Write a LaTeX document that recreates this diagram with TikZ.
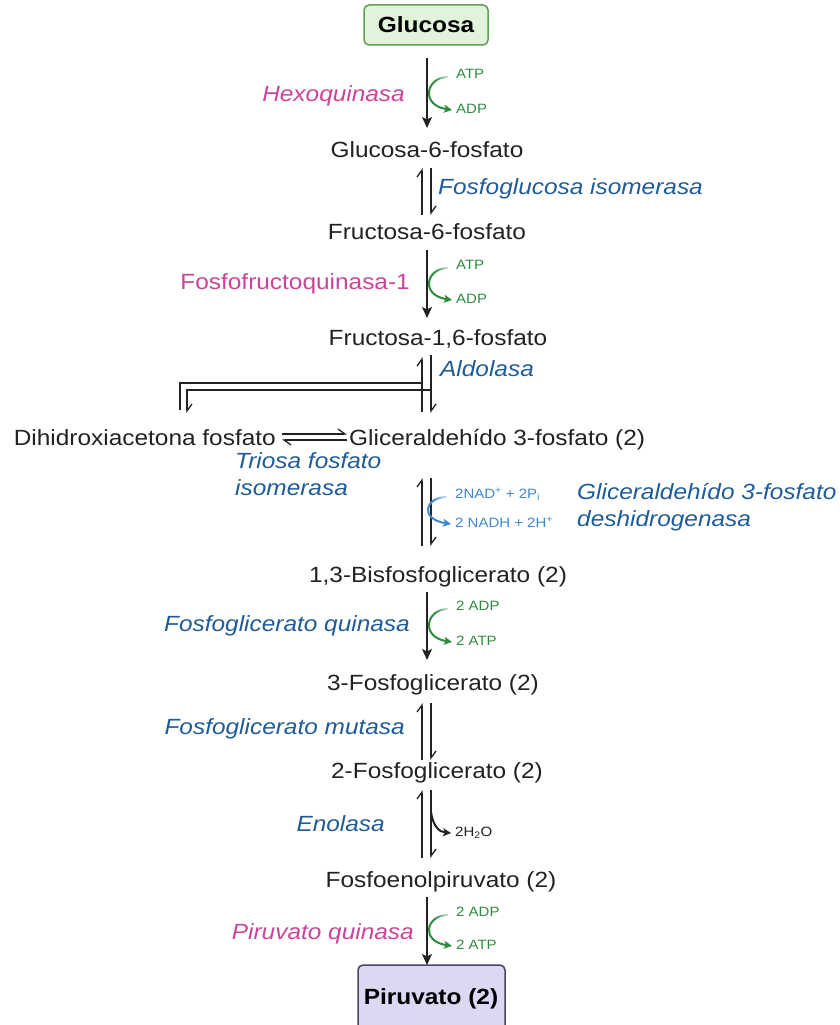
\documentclass[tikz,border=0pt]{standalone}
\usepackage{fontspec}
\setmainfont{Liberation Sans}[FakeStretch=1.11]
\usetikzlibrary{arrows.meta,fadings}
\definecolor{mag}{HTML}{CC449A}
\definecolor{enzblue}{HTML}{1F5C98}
\definecolor{cofgreen}{HTML}{2E8B3C}
\definecolor{nadblue}{HTML}{3D88CF}
\definecolor{ink}{HTML}{222222}
\definecolor{glcfill}{HTML}{E1F3DA}
\definecolor{glcdraw}{HTML}{5F9E55}
\definecolor{pyrfill}{HTML}{DCD7F3}
\definecolor{pyrdraw}{HTML}{4A4560}

\tikzfading[name=tailfade, left color=transparent!100, right color=transparent!0]

% cofactor arc running from the upper label round to the lower one, its tail fading out
\newcommand\cofarc[3]{%
  \draw[#1] ([shift={(-8,2)}]#2.west) .. controls +(-22,0) and +(-32,-5) .. ([xshift=-4]#3.west);
  \fill[white, path fading=tailfade] ([shift={(-22,-3)}]#2.west) rectangle ([shift={(-5,7)}]#2.west);}
% pair of half-headed lines for a reversible step between y=#1 (top) and y=#2 (bottom)
\newcommand\eqpair[2]{%
  \draw[eqline,barb] (422,#2) -- (422,#1);
  \draw[eqline,barb] (431,#1) -- (431,#2);}

\begin{document}
\begin{tikzpicture}[x=1pt,y=-1pt,
  met/.style={font=\fontsize{22}{26}\selectfont, text=ink, inner sep=0pt, text height=18pt, text depth=3pt},
  boxmet/.style={font=\fontsize{22}{26}\selectfont\bfseries, text=black, rounded corners=5pt, line width=1.5pt},
  enz/.style={font=\fontsize{22}{26.5}\selectfont\itshape, text=enzblue, inner sep=0pt, align=left},
  kin/.style={font=\fontsize{22}{26.5}\selectfont\itshape, text=mag, inner sep=0pt},
  cof/.style={font=\fontsize{13.5}{15}\selectfont, inner sep=0pt, text height=10pt, text depth=3pt},
  main/.style={line width=1.3pt, draw=ink, -{Stealth[length=11pt,width=10pt,inset=2.5pt]}},
  eqline/.style={line width=1.3pt, draw=ink},
  barb/.style={-{Straight Barb[left,length=7pt,width=10pt]}},
  arcg/.style={line width=2pt, draw=cofgreen, -{Stealth[length=8pt,width=8pt,inset=2pt]}},
  arcb/.style={line width=2pt, draw=nadblue, -{Stealth[length=8pt,width=8pt,inset=2pt]}},
  arck/.style={line width=2pt, draw=ink, -{Stealth[length=8pt,width=8pt,inset=2pt]}}
]
\useasboundingbox (0,0) rectangle (840,1025);
\fill[white] (0,0) rectangle (840,1025);

% metabolites
\node[boxmet, fill=glcfill, draw=glcdraw, minimum width=124pt, minimum height=40pt] (glc) at (426,25) {Glucosa};
\node[met] (g6p) at (427,150) {Glucosa-6-fosfato};
\node[met] (f6p) at (427,232) {Fructosa-6-fosfato};
\node[met] (f16) at (438,338) {Fructosa-1,6-fosfato};
\node[met, anchor=east] (dhap) at (276,438) {Dihidroxiacetona fosfato};
\node[met, anchor=west] (gap) at (349,438) {Gliceraldehído 3-fosfato (2)};
\node[met] (bpg) at (438,575) {1,3-Bisfosfoglicerato (2)};
\node[met] (pg3) at (433,683) {3-Fosfoglicerato (2)};
\node[met] (pg2) at (437,771) {2-Fosfoglicerato (2)};
\node[met] (pep) at (441,880) {Fosfoenolpiruvato (2)};
\begin{scope}
\clip (0,0) rectangle (840,1025);
\draw[boxmet, fill=pyrfill, draw=pyrdraw] (358,965) rectangle (505,1040);
\end{scope}
\node[font=\fontsize{22}{26}\selectfont\bfseries, inner sep=0pt, text height=18pt, text depth=3pt] (pyr) at (431,997) {Piruvato (2)};

% enzymes
\node[kin, anchor=east] (hk) at (405,96) {Hexoquinasa};
\node[enz, anchor=west] (pgi) at (438,189) {Fosfoglucosa isomerasa};
\node[kin, anchor=east, font=\fontsize{22}{26.5}\selectfont] (pfk) at (410,284) {Fosfofructoquinasa-1};
\node[enz, anchor=west] (ald) at (440,369) {Aldolasa};
\node[enz, anchor=west] (tpi) at (235,474) {Triosa fosfato\\isomerasa};
\node[enz, anchor=west] (gapdh) at (577,507) {Gliceraldehído 3-fosfato\\deshidrogenasa};
\node[enz, anchor=east] (pgk) at (410,626) {Fosfoglicerato quinasa};
\node[enz, anchor=east] (pgm) at (405,729) {Fosfoglicerato mutasa};
\node[enz, anchor=east] (eno) at (385,824) {Enolasa};
\node[kin, anchor=east] (pk) at (414,934) {Piruvato quinasa};

% cofactors
\node[cof, text=cofgreen, anchor=west] (atp1) at (456,75) {ATP};
\node[cof, text=cofgreen, anchor=west] (adp1) at (456,110) {ADP};
\node[cof, text=cofgreen, anchor=west] (atp2) at (456,266) {ATP};
\node[cof, text=cofgreen, anchor=west] (adp2) at (456,300) {ADP};
\node[cof, text=nadblue, anchor=west] (nad) at (455,495) {2NAD\textsuperscript{+} + 2P\textsubscript{i}};
\node[cof, text=nadblue, anchor=west] (nadh) at (455,524) {2 NADH + 2H\textsuperscript{+}};
\node[cof, text=cofgreen, anchor=west] (adp3) at (456,607) {2 ADP};
\node[cof, text=cofgreen, anchor=west] (atp3) at (456,642) {2 ATP};
\node[cof, text=ink, anchor=west] (h2o) at (455,833) {2H\textsubscript{2}O};
\node[cof, text=cofgreen, anchor=west] (adp4) at (456,913) {2 ADP};
\node[cof, text=cofgreen, anchor=west] (atp4) at (456,946) {2 ATP};

% irreversible steps
\coordinate (k1a) at (427,58);  \coordinate (k1b) at (427,128);
\coordinate (k2a) at (427,250); \coordinate (k2b) at (427,318);
\coordinate (k3a) at (427,592); \coordinate (k3b) at (427,660);
\coordinate (k4a) at (427,897); \coordinate (k4b) at (427,965);
\draw[main] (k1a) -- (k1b);
\draw[main] (k2a) -- (k2b);
\draw[main] (k3a) -- (k3b);
\draw[main] (k4a) -- (k4b);
\cofarc{arcg}{atp1}{adp1}
\cofarc{arcg}{atp2}{adp2}
\cofarc{arcg}{adp3}{atp3}
\cofarc{arcg}{adp4}{atp4}

% reversible steps
\eqpair{168}{215}
\eqpair{478}{546}
\cofarc{arcb}{nad}{nadh}
\eqpair{703}{760}
\eqpair{790}{858}
\coordinate (eno0) at (431,812);
\draw[arck] (eno0) .. controls +(2,14) and +(-12,-1) .. ([xshift=-4]h2o.west);

% aldolase split
\draw[eqline] (180,410) -- (180,383) -- (422,383);
\draw[eqline,barb] (422,412) -- (422,357);
\draw[eqline,barb] (431,355) -- (431,413);
\draw[eqline,barb] (431,390) -- (187,390) -- (187,413);

% triose phosphate isomerase
\draw[eqline,barb] ([shift={(6,-4)}]dhap.east) -- ([shift={(-2,-4)}]gap.west);
\draw[eqline,barb] ([shift={(-2,2)}]gap.west) -- ([shift={(6,2)}]dhap.east);
\end{tikzpicture}
\end{document}
